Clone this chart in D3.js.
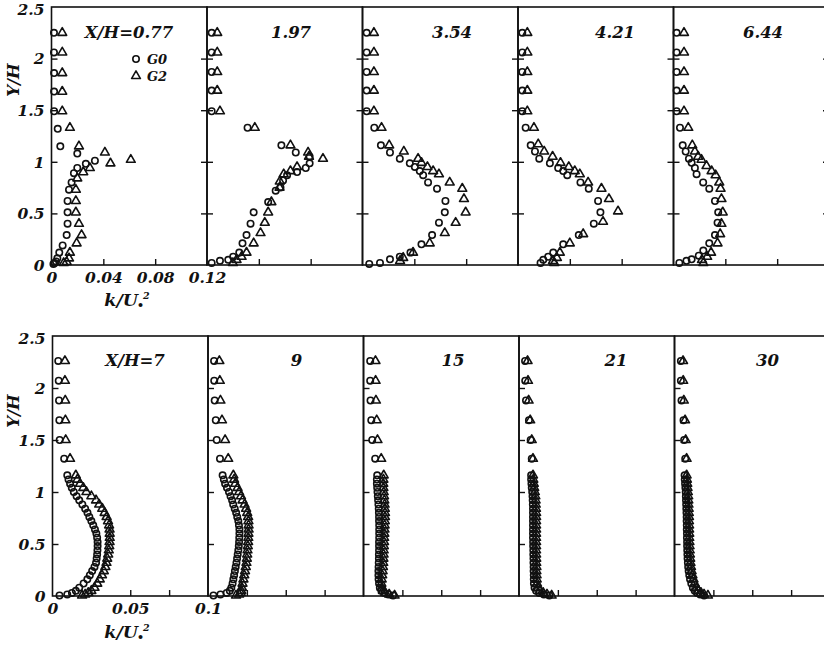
<!DOCTYPE html>
<html>
<head>
<meta charset="utf-8">
<script src="https://cdn.jsdelivr.net/npm/d3@7"></script>
<style>
  html, body { margin: 0; padding: 0; background: #fff; }
  svg { display: block; }
  text { font-family: "DejaVu Serif", serif; font-weight: bold; font-style: italic; fill: #111; }
</style>
</head>
<body>
<svg id="chart" width="824" height="651"></svg>
<script>
// ---------- data ----------
const seriesNames = ["G0", "G2"];
const yTickLabels = ["0", "0.5", "1", "1.5", "2", "2.5"];
const yTickValues = [0, 0.5, 1, 1.5, 2, 2.5];

// upstream stations (top row), k/U^2 from 0 to 0.12
const topStations = ["X/H=0.77", "1.97", "3.54", "4.21", "6.44"];
const topXTickValues = [0, 0.04, 0.08, 0.12];
const topXTickLabels = ["0", "0.04", "0.08", "0.12"];

// downstream stations (bottom row), k/U^2 from 0 to 0.1
const bottomStations = ["X/H=7", "9", "15", "21", "30"];
const bottomXTickValues = [0, 0.025, 0.05, 0.075, 0.1];
const bottomXTickLabels = ["0", "", "0.05", "", "0.1"];

// top row profiles: [k/U^2, Y/H]
const g0_077 = [[.0019,2.25],[.0019,2.06],[.0020,1.86],[.0020,1.68],[.0020,1.49],[.0048,1.32],[.0068,1.15],[.0199,1.08],[.0335,1.01],[.0265,0.98],[.0199,0.94],[.0173,0.89],[.0155,0.80],[.0135,0.73],[.0124,0.62],[.0124,0.51],[.0124,0.40],[.0117,0.29],[.0086,0.19],[.0060,0.12],[.0045,0.065],[.0035,0.035],[.0025,0.02],[.0015,0.01]];
const g2_077 = [[.0083,2.25],[.0083,2.06],[.0083,1.86],[.0083,1.68],[.0083,1.49],[.0142,1.33],[.0212,1.15],[.0412,1.09],[.0612,1.02],[.0455,0.985],[.0296,0.94],[.0245,0.90],[.0199,0.84],[.0188,0.73],[.0188,0.62],[.0188,0.51],[.0212,0.40],[.0232,0.29],[.0194,0.21],[.0142,0.12],[.0135,0.065],[.0117,0.03],[.0094,0.02]];
const g0_197 = [[.0036,2.25],[.0036,2.06],[.0036,1.87],[.0036,1.69],[.0036,1.49],[.0313,1.33],[.0574,1.16],[.0685,1.09],[.0792,1.05],[.0792,0.985],[.0762,0.94],[.0695,0.90],[.0618,0.87],[.0587,0.82],[.0567,0.75],[.0530,0.72],[.0472,0.61],[.0360,0.51],[.0336,0.40],[.0305,0.29],[.0274,0.21],[.0249,0.12],[.0202,0.08],[.0164,0.05],[.0100,0.04],[.0036,0.02]];
const g2_197 = [[.0079,2.25],[.0079,2.06],[.0079,1.87],[.0079,1.69],[.0100,1.49],[.0369,1.33],[.0644,1.16],[.0780,1.09],[.0895,1.03],[.0787,1.05],[.0695,0.95],[.0644,0.91],[.0592,0.88],[.0562,0.81],[.0560,0.75],[.0497,0.61],[.0472,0.51],[.0446,0.41],[.0413,0.31],[.0360,0.21],[.0305,0.12],[.0267,0.08],[.0228,0.05],[.0200,0.02]];
const g0_354 = [[.0032,2.25],[.0032,2.06],[.0032,1.87],[.0032,1.69],[.0032,1.49],[.0091,1.33],[.0142,1.16],[.0212,1.09],[.0288,1.03],[.0365,0.985],[.0404,0.95],[.0442,0.91],[.0468,0.87],[.0506,0.80],[.0575,0.74],[.0640,0.62],[.0635,0.51],[.0590,0.41],[.0537,0.29],[.0455,0.20],[.0370,0.12],[.0288,0.08],[.0212,0.055],[.0135,0.02],[.0052,0.01]];
const g2_354 = [[.0088,2.25],[.0088,2.06],[.0088,1.87],[.0088,1.69],[.0088,1.49],[.0147,1.33],[.0206,1.16],[.0319,1.10],[.0429,1.03],[.0455,0.99],[.0501,0.95],[.0545,0.91],[.0590,0.88],[.0673,0.80],[.0770,0.74],[.0783,0.64],[.0796,0.51],[.0719,0.41],[.0635,0.31],[.0519,0.21],[.0390,0.12],[.0314,0.07],[.0290,0.04]];
const g0_421 = [[.0033,2.25],[.0033,2.06],[.0033,1.87],[.0033,1.69],[.0033,1.49],[.0059,1.33],[.0098,1.16],[.0131,1.10],[.0164,1.03],[.0246,0.985],[.0310,0.94],[.0349,0.91],[.0380,0.87],[.0482,0.80],[.0546,0.74],[.0618,0.62],[.0636,0.51],[.0585,0.40],[.0469,0.29],[.0349,0.20],[.0272,0.12],[.0233,0.08],[.0195,0.05],[.0174,0.02]];
const g2_421 = [[.0072,2.25],[.0072,2.06],[.0072,1.87],[.0072,1.69],[.0072,1.49],[.0123,1.33],[.0156,1.17],[.0202,1.10],[.0267,1.05],[.0328,0.99],[.0392,0.95],[.0438,0.91],[.0477,0.88],[.0541,0.80],[.0644,0.74],[.0702,0.64],[.0772,0.52],[.0656,0.42],[.0503,0.30],[.0400,0.21],[.0323,0.12],[.0300,0.07],[.0270,0.04],[.0280,0.02]];
const g0_644 = [[.0024,2.25],[.0024,2.06],[.0024,1.87],[.0024,1.69],[.0024,1.49],[.0050,1.33],[.0071,1.16],[.0094,1.10],[.0119,1.03],[.0140,0.99],[.0165,0.94],[.0178,0.88],[.0229,0.80],[.0276,0.74],[.0320,0.62],[.0345,0.51],[.0340,0.41],[.0320,0.29],[.0276,0.21],[.0230,0.14],[.0195,0.09],[.0140,0.055],[.0100,0.04],[.0045,0.02]];
const g2_644 = [[.0081,2.25],[.0081,2.06],[.0081,1.87],[.0081,1.69],[.0081,1.49],[.0114,1.33],[.0145,1.16],[.0165,1.10],[.0190,1.05],[.0216,1.02],[.0255,0.96],[.0294,0.91],[.0325,0.87],[.0353,0.80],[.0363,0.74],[.0370,0.64],[.0380,0.51],[.0370,0.40],[.0360,0.30],[.0340,0.21],[.0290,0.12],[.0260,0.08],[.0220,0.05],[.0230,0.02]];

// bottom row: measurement heights Y/H shared by every downstream profile
const yLevels = [2.26, 2.07, 1.88, 1.69, 1.50, 1.32, 1.16, 1.12, 1.08, 1.04, 1.00, 0.96, 0.92, 0.88, 0.84, 0.80, 0.76, 0.72, 0.68, 0.64, 0.60, 0.56, 0.52, 0.48, 0.44, 0.40, 0.36, 0.32, 0.28, 0.24, 0.20, 0.16, 0.12, 0.08, 0.05, 0.03, 0.015, 0.005];
// k/U^2 at each of yLevels
const g0_7  = [.0037,.0040,.0042,.0044,.0046,.0075,.0095,.0103,.0113,.0124,.0137,.0155,.0172,.0192,.0210,.0225,.0237,.0250,.0262,.0273,.0282,.0287,.0290,.0290,.0289,.0287,.0284,.0280,.0270,.0255,.0240,.0224,.0200,.0172,.0150,.0125,.0095,.0045];
const g2_7  = [.0080,.0080,.0082,.0083,.0085,.0113,.0150,.0160,.0177,.0198,.0218,.0250,.0280,.0300,.0320,.0335,.0348,.0357,.0364,.0367,.0368,.0368,.0367,.0365,.0362,.0358,.0352,.0347,.0340,.0330,.0318,.0304,.0288,.0270,.0250,.0230,.0210,.0190];
const g0_9  = [.0039,.0040,.0043,.0050,.0056,.0077,.0094,.0102,.0110,.0122,.0135,.0145,.0155,.0162,.0172,.0181,.0188,.0195,.0199,.0202,.0202,.0201,.0200,.0198,.0195,.0191,.0187,.0183,.0178,.0173,.0168,.0163,.0158,.0150,.0140,.0120,.0080,.0035];
const g2_9  = [.0073,.0076,.0080,.0090,.0110,.0130,.0163,.0168,.0175,.0190,.0200,.0212,.0222,.0235,.0245,.0252,.0258,.0260,.0261,.0261,.0260,.0259,.0258,.0256,.0254,.0252,.0250,.0247,.0243,.0238,.0233,.0228,.0222,.0218,.0214,.0210,.0200,.0180];
const g0_15 = [.0043,.0043,.0045,.0050,.0056,.0075,.0088,.0086,.0086,.0088,.0090,.0092,.0094,.0096,.0098,.0099,.0100,.0100,.0101,.0101,.0101,.0101,.0100,.0100,.0100,.0099,.0099,.0098,.0097,.0096,.0096,.0097,.0100,.0105,.0115,.0135,.0160,.0190];
const g2_15 = [.0077,.0078,.0080,.0085,.0090,.0114,.0130,.0128,.0127,.0128,.0130,.0132,.0134,.0136,.0137,.0138,.0138,.0137,.0136,.0135,.0134,.0133,.0132,.0131,.0130,.0129,.0128,.0127,.0125,.0123,.0120,.0117,.0115,.0118,.0125,.0140,.0165,.0200];
const g0_21 = [.0039,.0040,.0045,.0064,.0075,.0082,.0078,.0078,.0080,.0082,.0085,.0087,.0088,.0089,.0090,.0090,.0090,.0090,.0090,.0090,.0090,.0090,.0091,.0091,.0092,.0092,.0093,.0093,.0094,.0094,.0095,.0095,.0096,.0100,.0110,.0130,.0160,.0195];
const g2_21 = [.0055,.0058,.0062,.0072,.0082,.0090,.0090,.0092,.0095,.0098,.0102,.0105,.0107,.0108,.0109,.0110,.0110,.0110,.0110,.0110,.0110,.0110,.0110,.0110,.0110,.0110,.0111,.0111,.0112,.0112,.0113,.0114,.0116,.0122,.0135,.0155,.0180,.0210];
const g0_30 = [.0041,.0041,.0045,.0058,.0062,.0069,.0065,.0066,.0068,.0070,.0072,.0073,.0074,.0075,.0076,.0077,.0078,.0078,.0079,.0079,.0080,.0080,.0081,.0081,.0082,.0083,.0084,.0086,.0088,.0091,.0095,.0100,.0108,.0118,.0130,.0145,.0165,.0190];
const g2_30 = [.0055,.0056,.0060,.0068,.0072,.0078,.0078,.0080,.0082,.0084,.0086,.0088,.0089,.0090,.0091,.0092,.0093,.0093,.0094,.0094,.0095,.0095,.0096,.0097,.0098,.0099,.0101,.0103,.0106,.0110,.0115,.0122,.0130,.0142,.0155,.0170,.0190,.0215];

const topProfiles = [[g0_077, g2_077], [g0_197, g2_197], [g0_354, g2_354], [g0_421, g2_421], [g0_644, g2_644]];
const bottomProfiles = [[g0_7, g2_7], [g0_9, g2_9], [g0_15, g2_15], [g0_21, g2_21], [g0_30, g2_30]]
  .map(pair => pair.map(ks => ks.map((k, i) => [k, yLevels[i]])));

// ---------- layout ----------
const svg = d3.select("#chart");
const panelW = 155.5;
const rows = [
  { left: 51.5, top: 7,   bottom: 265, xMax: 0.12, stations: topStations, profiles: topProfiles,
    xTicks: topXTickValues, xLabels: topXTickLabels, labelDx: [77.5, 84, 89.5, 97, 89.5],
    labelY: 38, titleY: 306, tickLabelY: 284, yTitleY: 80, bothSideTicks: true },
  { left: 52.5, top: 336, bottom: 596, xMax: 0.1, stations: bottomStations, profiles: bottomProfiles,
    xTicks: bottomXTickValues, xLabels: bottomXTickLabels, labelDx: [82.5, 88.5, 89.5, 97, 93],
    labelY: 366, titleY: 638, tickLabelY: 615, yTitleY: 411, bothSideTicks: false }
];

const tri = d3.symbol().type(d3.symbolTriangle).size(34);
const fs = 15.5;        // tick labels
const fsLabel = 16.5;   // station labels and axis titles
const ink = "#111";
const markStroke = 1.6;
const markR = 3.2;

rows.forEach(row => {
  const y = d3.scaleLinear().domain([0, 2.5]).range([row.bottom, row.top]);

  row.stations.forEach((name, i) => {
    const x0 = row.left + panelW * i;
    const x = d3.scaleLinear().domain([0, row.xMax]).range([x0, x0 + panelW]);
    const g = svg.append("g");

    // frame
    g.append("rect")
      .attr("x", x0).attr("y", row.top)
      .attr("width", panelW).attr("height", row.bottom - row.top)
      .attr("fill", "none").attr("stroke", ink).attr("stroke-width", 1.6);

    // inward ticks on the k axis
    const bx = d3.axisTop(x).tickValues(row.xTicks.filter(v => v > 0 && v < row.xMax))
      .tickSize(6).tickFormat("");
    g.append("g").attr("transform", `translate(0,${row.bottom})`).call(bx)
      .call(s => s.select(".domain").remove())
      .call(s => s.selectAll("line").attr("stroke", ink).attr("stroke-width", 1.4));

    // inward ticks on the Y/H axis
    const ly = d3.axisRight(y).tickValues([0.5, 1, 1.5, 2]).tickSize(6).tickFormat("");
    g.append("g").attr("transform", `translate(${x0},0)`).call(ly)
      .call(s => s.select(".domain").remove())
      .call(s => s.selectAll("line").attr("stroke", ink).attr("stroke-width", 1.4));
    if (row.bothSideTicks) {
      const ry = d3.axisLeft(y).tickValues([0.5, 1, 1.5, 2]).tickSize(6).tickFormat("");
      g.append("g").attr("transform", `translate(${x0 + panelW},0)`).call(ry)
        .call(s => s.select(".domain").remove())
        .call(s => s.selectAll("line").attr("stroke", ink).attr("stroke-width", 1.4));
    }

    // station label
    g.append("text")
      .attr("x", x0 + row.labelDx[i]).attr("y", row.labelY)
      .attr("text-anchor", "middle").attr("font-size", fsLabel)
      .text(name);

    // G0 circles
    const [s0, s2] = row.profiles[i];
    g.append("g").selectAll("circle").data(s0).join("circle")
      .attr("cx", d => x(d[0])).attr("cy", d => y(d[1])).attr("r", markR)
      .attr("fill", "none").attr("stroke", ink).attr("stroke-width", markStroke);
    // G2 triangles
    g.append("g").selectAll("path").data(s2).join("path")
      .attr("d", tri)
      .attr("transform", d => `translate(${x(d[0])},${y(d[1])})`)
      .attr("fill", "none").attr("stroke", ink).attr("stroke-width", markStroke)
      .attr("stroke-linejoin", "round");

    if (i === 0) {
      // Y/H tick labels
      const yl = d3.axisLeft(y).tickValues(yTickValues).tickSize(0)
        .tickFormat((d, j) => yTickLabels[j]).tickPadding(7);
      g.append("g").attr("transform", `translate(${x0},0)`).call(yl)
        .call(s => s.select(".domain").remove())
        .call(s => s.selectAll("text").attr("font-size", fs).attr("font-family", null).attr("fill", ink)
          .attr("dy", d => d === 2.5 ? "0.5em" : "0.34em"));

      // k tick labels
      const xl = d3.axisBottom(x).tickValues(row.xTicks).tickSize(0)
        .tickFormat((d, j) => row.xLabels[j]).tickPadding(0);
      g.append("g").attr("transform", `translate(0,${row.tickLabelY - 12})`).call(xl)
        .call(s => s.select(".domain").remove())
        .call(s => s.selectAll("text").attr("font-size", fs).attr("font-family", null).attr("fill", ink));

      // axis titles
      svg.append("text")
        .attr("transform", `translate(19,${row.yTitleY}) rotate(-90)`)
        .attr("text-anchor", "middle").attr("font-size", fsLabel)
        .text("Y/H");

      const t = svg.append("text")
        .attr("x", 127).attr("y", row.titleY)
        .attr("text-anchor", "middle").attr("font-size", fsLabel + 1);
      t.append("tspan").text("k/U");
      t.append("tspan").attr("dx", -1).attr("dy", 3).attr("font-size", 11).text("•");
      t.append("tspan").attr("dx", -1).attr("dy", -10).attr("font-size", 9.5).text("2");
    }
  });
});

// legend in the first panel
const legend = svg.append("g").attr("transform", "translate(136,59)");
seriesNames.forEach((name, j) => {
  const item = legend.append("g").attr("transform", `translate(0,${j * 17})`);
  if (j === 0) {
    item.append("circle").attr("r", markR).attr("fill", "none")
      .attr("stroke", ink).attr("stroke-width", markStroke);
  } else {
    item.append("path").attr("d", tri).attr("fill", "none")
      .attr("stroke", ink).attr("stroke-width", markStroke).attr("stroke-linejoin", "round");
  }
  item.append("text").attr("x", 11).attr("y", 5).attr("font-size", 13).text(name);
});
</script>
</body>
</html>
